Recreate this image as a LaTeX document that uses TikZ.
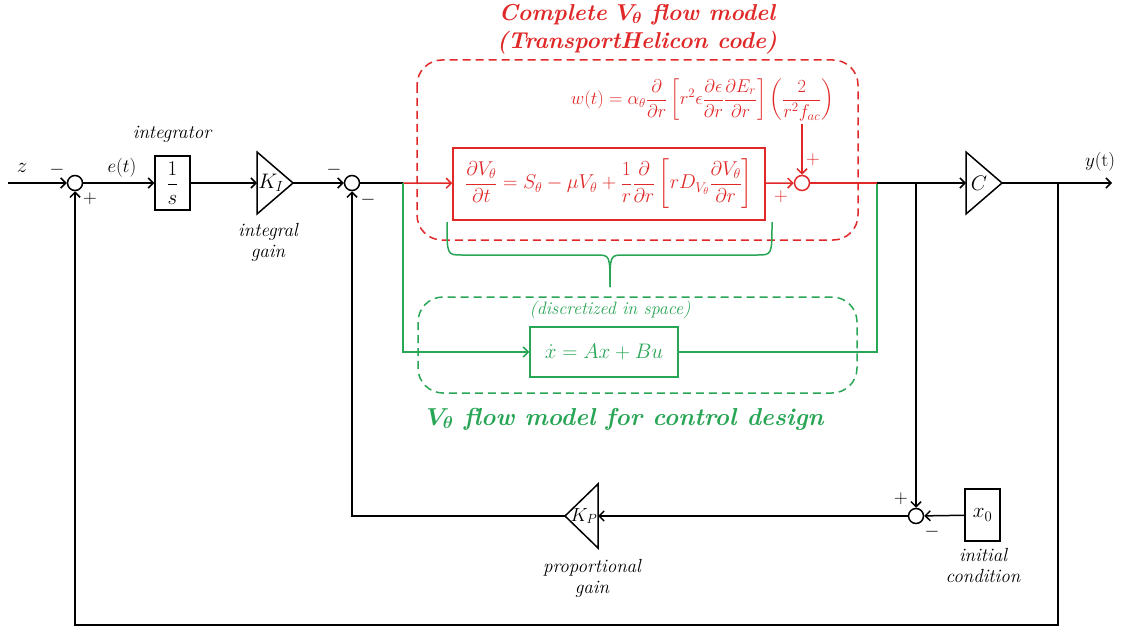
\RequirePackage{fix-cm}
\documentclass[tikz,border=0pt]{standalone}
\usepackage{amsmath,bm}
\usepackage{fontspec}
\usetikzlibrary{arrows.meta}
\definecolor{cred}{RGB}{225,40,40}
\definecolor{cgreen}{RGB}{40,165,85}
\begin{document}
\begin{tikzpicture}[x=1pt,y=-1pt, line width=1.5pt,
  >={Straight Barb[length=5pt,width=10pt]},
  every node/.style={font=\fontsize{19}{23}\selectfont},
  eq/.style={font=\fontsize{20}{24}\selectfont},
  weqs/.style={font=\fontsize{18.5}{22}\selectfont},
  big/.style={font=\fontsize{21}{24}\selectfont},
  sum/.style={circle,draw,minimum size=15pt,inner sep=0pt,line width=1.5pt},
  blockbox/.style={draw,inner sep=0pt,line width=1.5pt},
  lbl/.style={font=\fontsize{19}{21}\selectfont\itshape,align=center},
  sgn/.style={inner sep=0pt},
  ttl/.style={font=\fontsize{23}{28}\selectfont\bfseries\itshape\boldmath,align=center},
  gbox/.style={draw,dashed,dash pattern=on 8pt off 5pt,rounded corners=25pt}]
\useasboundingbox (0,0) rectangle (1123,631);

% red dashed region and titles
\draw[cred,gbox] (417,60) rectangle (858,240);
\node[ttl,text=cred] (title) at (637,29) {Complete $V_\theta$ flow model\\(TransportHelicon code)};

% green dashed region
\draw[cgreen,gbox] (418,297) rectangle (857,393);
\node[ttl,text=cgreen,font=\fontsize{24.5}{28}\selectfont\bfseries\itshape\boldmath] (gtitle) at (625,419) {$V_\theta$ flow model for control design};
\node[lbl,text=cgreen,font=\fontsize{18}{21}\selectfont\itshape] (disc) at (610,310) {(discretized in space)};

% brace
\draw[cgreen] (447,222) .. controls (447,255) .. (462,255) -- (596,255) .. controls (610,255) .. (610,287);
\draw[cgreen] (772,222) .. controls (772,255) .. (757,255) -- (624,255) .. controls (610,255) .. (610,287);

% blocks
\node[sum] (s1) at (75,183) {};
\node[blockbox,big,minimum width=35pt,minimum height=54pt] (integ) at (172.5,183) {$\dfrac{1}{s}$};
\node[sum] (s2) at (352,183) {};
\node[blockbox,eq,draw=cred,text=cred,minimum width=312pt,minimum height=72pt] (redbox) at (609,184)
  {$\displaystyle \frac{\partial V_\theta}{\partial t} = S_\theta - \mu V_\theta + \frac{1}{r}\frac{\partial}{\partial r}\left[ r D_{V_\theta}\frac{\partial V_\theta}{\partial r}\right]$};
\node[sum,draw=cred] (s3) at (802,183) {};
\node[weqs,text=cred,anchor=east,inner sep=0pt] (weq) at (835,100)
  {$w(t) = \alpha_\theta \dfrac{\partial}{\partial r}\left[r^2\epsilon\dfrac{\partial\epsilon}{\partial r}\dfrac{\partial E_r}{\partial r}\right]\left(\dfrac{2}{r^2 f_{ac}}\right)$};
\node[blockbox,big,draw=cgreen,text=cgreen,minimum width=148pt,minimum height=50pt] (gbox) at (604,352) {$\dot x = Ax + Bu$};
\node[sum] (s4) at (916,516) {};
\node[blockbox,big,minimum width=35pt,minimum height=52pt] (x0) at (982.5,515) {$x_0$};

% triangles
\draw (257,152) -- (257,214) -- (293,183) -- cycle;
\node[big] (KI) at (271,183) {$K_I$};
\draw (966,152) -- (966,214) -- (1002,183) -- cycle;
\node[big] (C) at (979,183) {$C$};
\draw (598,484) -- (598,548) -- (565,516) -- cycle;
\node (KP) at (584,516) {$K_P$};

% coordinates
\coordinate (zin) at (8,183);
\coordinate (KIin) at (257,183);
\coordinate (KIout) at (293,183);
\coordinate (jr) at (403,183);
\coordinate (jg) at (877,183);
\coordinate (jb) at (916,183);
\coordinate (Cin) at (966,183);
\coordinate (Cout) at (1002,183);
\coordinate (jy) at (1058,183);
\coordinate (yout) at (1112,183);
\coordinate (jyb) at (1058,625);
\coordinate (wout) at (802,124);
\coordinate (KPin) at (598,516);
\coordinate (KPout) at (565,516);

% connectors
\draw[->] (zin) -- (s1);
\draw[->] (s1) -- (integ);
\draw[->] (integ) -- (KIin);
\draw[->] (KIout) -- (s2);
\draw (s2) -- (jr);
\draw[cred,->] (jr) -- (redbox);
\draw[cgreen,->] (jr) |- (gbox);
\draw[cgreen] (gbox) -| (jg);
\draw[cred,->] (redbox) -- (s3);
\draw[cred,->] (wout) -- (s3);
\draw[cred] (s3) -- (jg);
\draw[->] (jg) -- (Cin);
\draw[->] (jb) -- (s4);
\draw[->] (Cout) -- (yout);
\draw[->] (jy) -- (jyb) -| (s1);
\draw[->] (x0) -- (s4);
\draw[->] (s4) -- (KPin);
\draw[->] (KPout) -| (s2);

% labels
\node[big] (z) at (22,168) {$z$};
\node (et) at (122,168) {$e(t)$};
\node (yt) at (1100,162) {$y$(t)};
\node[lbl] (lint) at (172,134) {integrator};
\node[lbl] (lKI) at (268,242) {integral\\gain};
\node[lbl] (lKP) at (592,578) {proportional\\gain};
\node[lbl] (lx0) at (983,565) {initial\\condition};
\node[sgn] (m1) at (57,170) {$-$};
\node[sgn] (p1) at (90,199) {$+$};
\node[sgn] (m2) at (334,170) {$-$};
\node[sgn] (m3) at (368,200) {$-$};
\node[sgn,text=cred] (p3a) at (781,197) {$+$};
\node[sgn,text=cred] (p3b) at (813,160) {$+$};
\node[sgn] (p4) at (901,499) {$+$};
\node[sgn] (m4) at (932,532) {$-$};
\end{tikzpicture}
\end{document}
